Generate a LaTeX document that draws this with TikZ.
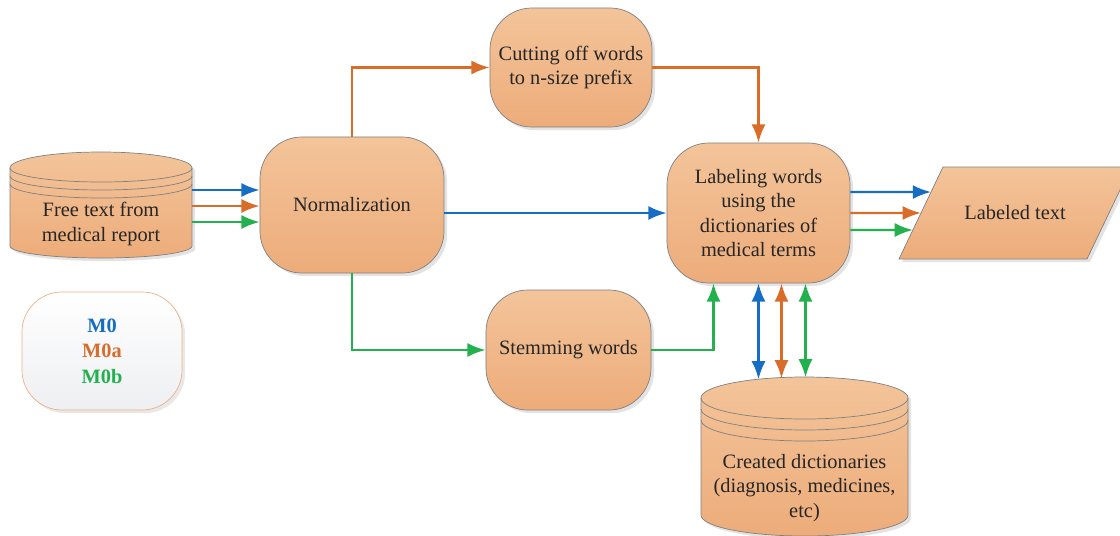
\documentclass[tikz,border=0pt]{standalone}
\usepackage{fontspec}
\setmainfont{Liberation Serif}
\usetikzlibrary{arrows.meta,positioning,calc,shadows}

\definecolor{mzero}{RGB}{21,110,196}
\definecolor{mzeroa}{RGB}{216,108,40}
\definecolor{mzerob}{RGB}{34,177,76}
\definecolor{boxtop}{RGB}{243,196,154}
\definecolor{boxbot}{RGB}{237,172,122}
\definecolor{boxline}{RGB}{128,128,128}
\definecolor{keyline}{RGB}{240,176,130}

\begin{document}
\begin{tikzpicture}[x=0.025cm, y=-0.025cm,
  every node/.style={font=\fontsize{14.5}{17.4}\selectfont, text=black!85},
  orangefill/.style={top color=boxtop, bottom color=boxbot, draw=boxline, line width=0.5pt,
    drop shadow={shadow xshift=2.2pt, shadow yshift=-2.2pt, opacity=0.22}},
  box/.style={orangefill, rounded corners=1.05cm, align=center},
  flow/.style={-{Latex[length=13pt,width=10pt]}, line width=1.7pt},
  twoway/.style={{Latex[length=13pt,width=10pt]}-{Latex[length=13pt,width=10pt]}, line width=1.7pt}]

  \useasboundingbox (0,0) rectangle (1120,535);

  % input store
  \path[orangefill] (10,168) -- (10,246) arc[start angle=180, end angle=360, x radius=2.275cm, y radius=0.3cm]
    -- (192,168) arc[start angle=0, end angle=180, x radius=2.275cm, y radius=0.4cm] -- cycle;
  \foreach \yy in {168,176,184}
    \draw[boxline, line width=0.5pt] (10,\yy) arc[start angle=180, end angle=360, x radius=2.275cm, y radius=0.35cm];
  \node[minimum width=4.55cm, align=center] (src) at (101,224) {Free text from\\medical report};

  % dictionaries store
  \path[orangefill] (701,398) -- (701,515) arc[start angle=180, end angle=360, x radius=2.5875cm, y radius=0.525cm]
    -- (908,398) arc[start angle=0, end angle=180, x radius=2.5875cm, y radius=0.525cm] -- cycle;
  \foreach \yy in {398,409,420}
    \draw[boxline, line width=0.5pt] (701,\yy) arc[start angle=180, end angle=360, x radius=2.5875cm, y radius=0.525cm];
  \node[align=center] (dict) at (804.5,488) {Created dictionaries\\(diagnosis, medicines,\\etc)};

  % output
  \coordinate (pbl) at (899,259);
  \coordinate (ptl) at (943,167);
  \path[orangefill] (pbl) -- (ptl) -- (1131,167) -- (1087,259) -- cycle;
  \node (out) at (1015,213) {Labeled text};

  \node[box, minimum width=4.6cm, minimum height=3.4cm] (norm) at (352,205) {Normalization};
  \node[box, minimum width=4.05cm, minimum height=2.975cm] (cut) at (571,67.5) {Cutting off words\\to n-size prefix};
  \node[box, minimum width=4.125cm, minimum height=3cm] (stem) at (568.5,350) {Stemming words};
  \node[box, minimum width=4.575cm, minimum height=3.5cm] (lab) at (758.5,213) {Labeling words\\using the\\dictionaries of\\medical terms};

  \node[rounded corners=1cm, top color=white, bottom color={rgb,255:red,238;green,239;blue,242},
    draw=keyline, line width=0.5pt, minimum width=4cm, minimum height=2.95cm, align=center,
    font=\fontsize{14.5}{18}\selectfont\bfseries,
    drop shadow={shadow xshift=2.2pt, shadow yshift=-2.2pt, opacity=0.18}] (key) at (102,351)
    {\textcolor{mzero}{M0}\\\textcolor{mzeroa}{M0a}\\\textcolor{mzerob}{M0b}};

  % M0
  \draw[flow, mzero] ($(src.east)+(0,-34)$) -- ($(norm.west)+(0,-15)$);
  \draw[flow, mzero] (norm.east |- lab.west) -- (lab.west);
  \draw[flow, mzero] ($(lab.east)+(0,-21)$) -- ($(pbl)!0.728!(ptl)$);
  \draw[twoway, mzero] (lab.south) -- ++(0,96);

  % M0a
  \draw[flow, mzeroa] ($(src.east)+(0,-18)$) -- ($(norm.west)+(0,1)$);
  \draw[flow, mzeroa] (norm.north) |- (cut.west);
  \draw[flow, mzeroa] (cut.east) -| (lab.north);
  \draw[flow, mzeroa] (lab.east) -- ($(pbl)!0.5!(ptl)$);
  \draw[twoway, mzeroa] ($(lab.south)+(23,0)$) -- ++(0,95);

  % M0b
  \draw[flow, mzerob] ($(src.east)+(0,-2)$) -- ($(norm.west)+(0,17)$);
  \draw[flow, mzerob] (norm.south) |- (stem.west);
  \draw[flow, mzerob] (stem.east) -| ($(lab.south)+(-45,0)$);
  \draw[flow, mzerob] ($(lab.east)+(0,17)$) -- ($(pbl)!0.315!(ptl)$);
  \draw[twoway, mzerob] ($(lab.south)+(47,0)$) -- ++(0,94);
\end{tikzpicture}
\end{document}
